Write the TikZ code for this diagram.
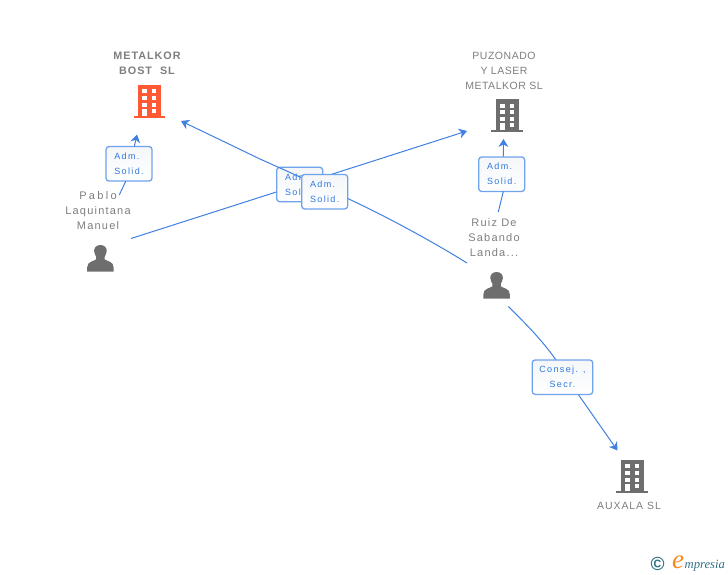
\documentclass[tikz,border=0pt]{standalone}
\usepackage{fontspec}
\setmainfont{Liberation Sans}
\newfontfamily\lblfont[LetterSpace=9]{Liberation Sans}
\newfontfamily\capfont[LetterSpace=5]{Liberation Sans}
\newfontfamily\lowfont[LetterSpace=11]{Liberation Sans}
\newfontfamily\widefont[LetterSpace=21]{Liberation Sans}
\newfontfamily\boxfont[LetterSpace=15]{Liberation Sans}
\newfontfamily\logofont{Liberation Serif}
\usetikzlibrary{arrows.meta,shadings}
\definecolor{linkblue}{HTML}{3F80E2}
\definecolor{boxedge}{HTML}{6FA3EC}
\definecolor{boxtop}{HTML}{F4F6F8}
\definecolor{boxtext}{HTML}{2F78E0}
\definecolor{icongray}{HTML}{6E6E6E}
\definecolor{labelgray}{HTML}{7E7E7E}
\definecolor{accent}{HTML}{FF5A33}
\definecolor{logoteal}{HTML}{2F7186}
\definecolor{logoorange}{HTML}{F58A1F}
\tikzset{
  link/.style={draw=linkblue,line width=1pt},
  arrowlink/.style={link,-{Stealth[length=8pt,width=10pt,inset=2.5pt]}},
  rolebox/.style={draw=boxedge,line width=1.3pt,rounded corners=3pt,top color=boxtop,bottom color=white,
    minimum width=46pt,minimum height=34.5pt,inner sep=0pt,align=left,
    font=\fontsize{9}{15}\boxfont,text=boxtext},
  capslabel/.style={align=center,inner sep=0pt,font=\fontsize{10.5}{15}\capfont,text=labelgray},
  namelabel/.style={align=center,inner sep=0pt,font=\fontsize{11}{15}\lowfont,text=labelgray},
  boldlabel/.style={align=center,inner sep=0pt,font=\fontsize{10.8}{15}\lblfont\bfseries,text=labelgray},
  building/.pic={
    \fill[pic actions] (0,0) rectangle (22.4,31.5);
    \fill[pic actions] (-4.8,30.6) rectangle (27,33);
    \fill[white] (3.8,4.3) rectangle +(4.6,4);
    \fill[white] (13.3,4.3) rectangle +(4.6,4);
    \fill[white] (3.8,11) rectangle +(4.6,4);
    \fill[white] (13.3,11) rectangle +(4.6,4);
    \fill[white] (3.8,17.6) rectangle +(4.6,4);
    \fill[white] (13.3,17.6) rectangle +(4.6,4);
    \fill[white] (3.8,24) rectangle (8.4,30.6);
    \fill[white] (13.3,24) rectangle +(4.6,4);
  },
  person/.pic={
    \fill[icongray] (0,-13.4) .. controls (4.6,-13.4) and (6.5,-10) .. (6.3,-7.2)
      .. controls (6.1,-4.4) and (4.6,-2.8) .. (4.2,-1.6) -- (4.2,1)
      .. controls (7,3) and (13.2,3) .. (13.2,9) -- (13.2,13.2) -- (-13.2,13.2) -- (-13.2,9)
      .. controls (-13.2,3) and (-7,3) .. (-4.2,1) -- (-4.2,-1.6)
      .. controls (-4.6,-2.8) and (-6.1,-4.4) .. (-6.3,-7.2)
      .. controls (-6.5,-10) and (-4.6,-13.4) .. (0,-13.4) -- cycle;
  }
}
\begin{document}
\begin{tikzpicture}[x=1pt,y=-1pt]
\useasboundingbox (0,0) rectangle (728,575);
% coordinates of free ends
\coordinate (pabloOut) at (131,238.5);
\coordinate (ruizOut) at (467,263);
\coordinate (puzIn) at (467,131);
\coordinate (metIn) at (181,121);
\coordinate (pabloUp) at (119.3,195);
\coordinate (metUp) at (137,134.5);
\coordinate (ruizUp) at (498.3,212);
\coordinate (puzUp) at (503.5,139);
\coordinate (ruizDown) at (508.3,306.5);
\coordinate (auxIn) at (617.5,450.5);
% buildings
\pic[fill=accent] at (138.3,85) {building};
\pic[fill=icongray] at (496.2,99.3) {building};
\pic[fill=icongray] at (621.2,460) {building};
% persons
\pic at (100.4,258.4) {person};
\pic at (496.6,285.4) {person};
% labels
\node[boldlabel] (metName) at (147,63.5) {METALKOR\\BOST\ \ SL};
\node[capslabel] (puzName) at (504,70.5) {PUZONADO\\Y LASER\\METALKOR SL};
\node[namelabel] (pabloName) at (98,210.5) {{\widefont Pablo}\\Laquintana\\Manuel};
\node[namelabel] (ruizName) at (494,237.5) {Ruiz De\\Sabando\\Landa...};
\node[capslabel,font=\fontsize{10.5}{15}\lblfont] (auxName) at (629,506) {AUXALA SL};
% connector under both central boxes
\draw[arrowlink] (pabloOut) -- (puzIn);
% first central box
\node[rolebox] (boxA) at (299.7,184.5) {Adm.\\Solid.};
% connector above first box, below second
\draw[arrowlink] (ruizOut) .. controls (430,240) and (380,213) .. (340,195) -- (260,159) -- (metIn);
\node[rolebox] (boxB) at (324.7,191.7) {Adm.\\Solid.};
% side connectors
\node[rolebox] (boxC) at (129,163.8) {Adm.\\Solid.};
\draw[link] (pabloUp) -- (125.7,181.3);
\draw[arrowlink] (134.3,146.5) -- (metUp);
\node[rolebox] (boxD) at (501.7,174.2) {Adm.\\Solid.};
\draw[link] (ruizUp) -- (503.3,191.5);
\draw[arrowlink] (503.3,156.5) -- (puzUp);
\draw[link] (ruizDown) .. controls (525,323) and (542,340) .. (556,360);
\draw[arrowlink] (578.3,394.5) -- (auxIn);
\node[rolebox,minimum width=60.5pt,align=center] (boxE) at (562.5,377.2) {Consej. ,\\Secr.};
% logo
\node[inner sep=0pt,text=logoteal,font=\fontsize{19}{19}\bfseries] (copy) at (657.7,564) {\textcopyright};
\node[inner sep=0pt,text=logoorange,font=\fontsize{27}{27}\logofont\itshape] (logoE) at (678,562) {e};
\node[inner sep=0pt,text=logoteal,anchor=west,font=\fontsize{12.6}{13}\logofont\itshape] (logoT) at (684.5,565.5) {mpresia};
\end{tikzpicture}
\end{document}
